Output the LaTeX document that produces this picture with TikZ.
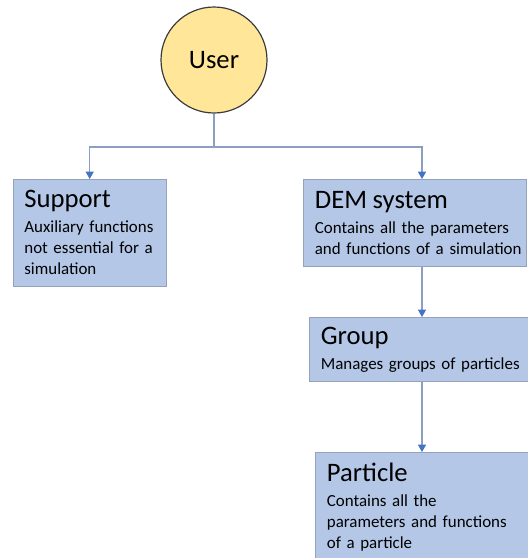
\documentclass[tikz,border=0pt]{standalone}
\usepackage{fontspec}
\setmainfont{Carlito}
\usetikzlibrary{arrows.meta,positioning,calc}

\definecolor{boxblue}{HTML}{B4C7E7}
\definecolor{boxline}{RGB}{150,162,184}
\definecolor{usergold}{HTML}{FFE699}
\definecolor{userline}{RGB}{60,60,60}
\definecolor{connline}{RGB}{140,158,196}
\definecolor{tipblue}{HTML}{4472C4}

\newcommand{\boxtitle}[1]{{\fontsize{20}{18}\selectfont #1}}
\newcommand{\boxdesc}{\hyphenpenalty10000\relax\fontsize{12.7}{15.75}\selectfont}

\begin{document}
\begin{tikzpicture}[x=0.75pt, y=-0.75pt,
    classbox/.style={draw=boxline, fill=boxblue, line width=0.8pt, anchor=north west,
        align=left, inner xsep=8.5pt, inner ysep=0pt, font=\boxdesc},
    conn/.style={draw=connline, line width=0.8pt},
    arr/.style={conn, -{Triangle[width=6pt, length=5.5pt, color=tipblue]}}]
        \useasboundingbox (0,0) rectangle (528,558);

        % User
        \node[circle, draw=userline, fill=usergold, line width=0.9pt, minimum size=79.5pt,
              inner sep=0pt, font=\fontsize{20}{22}\selectfont] (user) at (214,60) {User};

        % Boxes
        \node[classbox, text width=98pt, minimum height=80pt] (support) at (12.5,179)
            {\boxtitle{Support}\\[3pt]\mbox{Auxiliary functions}\\not essential for a\\simulation};
        \node[classbox, text width=150pt, minimum height=65pt] (dem) at (303,179)
            {\boxtitle{DEM system}\\[3pt]Contains all the parameters\\\mbox{and functions of a simulation}};
        \node[classbox, text width=148pt, minimum height=48pt] (group) at (309,317)
            {\boxtitle{Group}\\[3pt]\mbox{Manages groups of particles}};
        \node[classbox, text width=144pt, minimum height=82.5pt] (particle) at (315,452)
            {\boxtitle{Particle}\\[3pt]Contains all the\\parameters and functions\\of a particle};

        % Connectors
        \coordinate (split) at (214,147);
        \coordinate (col) at (422,0);
        \draw[conn] (user.south) -- (split);
        \draw[arr] (split) -| (support.north);
        \draw[arr] (split) -| (dem.north -| col);
        \draw[arr] (dem.south -| col) -- (group.north -| col);
        \draw[arr] (group.south -| col) -- (particle.north -| col);
    \end{tikzpicture}
\end{document}
